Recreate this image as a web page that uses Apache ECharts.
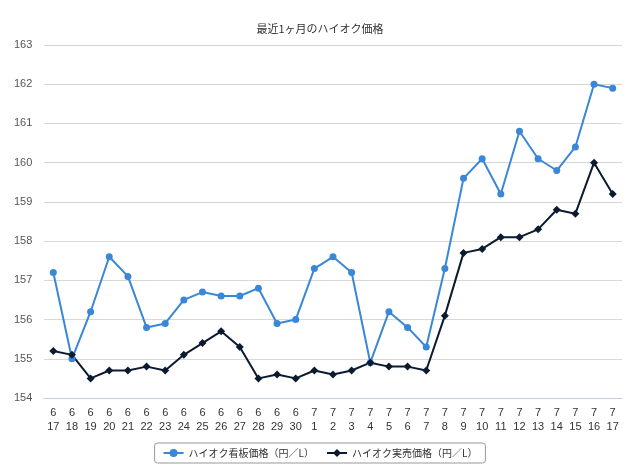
<!DOCTYPE html>
<html><head><meta charset="utf-8">
<script src="https://cdn.jsdelivr.net/npm/echarts@6/dist/echarts.min.js"></script>
<style>html,body{margin:0;background:#fff}#c{width:640px;height:473px}</style>
</head><body><div id="c"></div>
<script>
var months = ['6','6','6','6','6','6','6','6','6','6','6','6','6','6','7','7','7','7','7','7','7','7','7','7','7','7','7','7','7','7','7'];
var days = ['17','18','19','20','21','22','23','24','25','26','27','28','29','30','1','2','3','4','5','6','7','8','9','10','11','12','13','14','15','16','17'];
var signPrice = [157.2,155.0,156.2,157.6,157.1,155.8,155.9,156.5,156.7,156.6,156.6,156.8,155.9,156.0,157.3,157.6,157.2,154.9,156.2,155.8,155.3,157.3,159.6,160.1,159.2,160.8,160.1,159.8,160.4,162.0,161.9];
var salePrice = [155.2,155.1,154.5,154.7,154.7,154.8,154.7,155.1,155.4,155.7,155.3,154.5,154.6,154.5,154.7,154.6,154.7,154.9,154.8,154.8,154.7,156.1,157.7,157.8,158.1,158.1,158.3,158.8,158.7,160.0,159.2];

var chart = echarts.init(document.getElementById('c'));
var cats = months.map(function (m, i) { return m + '\n' + days[i]; });
chart.setOption({
    title: {text: '最近1ヶ月のハイオク価格', left: 'center', top: 18,
        textStyle: {fontSize: 11, fontWeight: 'normal', color: '#333', fontFamily: 'Noto Sans CJK JP'}},
    grid: {left: 44, right: 18, top: 45, bottom: 75},
    legend: {bottom: 10, itemGap: 12, itemWidth: 20, itemHeight: 10, padding: [5, 8], borderColor: '#999', borderWidth: 1, borderRadius: 3,
        textStyle: {fontSize: 10, color: '#333', fontFamily: 'Noto Sans CJK JP'}},
    xAxis: {type: 'category', data: cats, boundaryGap: true,
        axisLine: {lineStyle: {color: '#c0d0e0'}}, axisTick: {show: false},
        axisLabel: {interval: 0, color: '#333', fontSize: 11, lineHeight: 14}},
    yAxis: {type: 'value', min: 154, max: 163, interval: 1,
        axisLabel: {color: '#555', fontSize: 11, margin: 30, align: 'left'},
        splitLine: {lineStyle: {color: '#d8d8d8'}}},
    series: [
        {name: 'ハイオク看板価格（円／L）', type: 'line', data: signPrice, symbol: 'circle', symbolSize: 7,
            color: '#3a87d8', lineStyle: {width: 2}},
        {name: 'ハイオク実売価格（円／L）', type: 'line', data: salePrice, symbol: 'diamond', symbolSize: 8,
            color: '#0c1a30', lineStyle: {width: 2}}
    ]
});
</script></body></html>
